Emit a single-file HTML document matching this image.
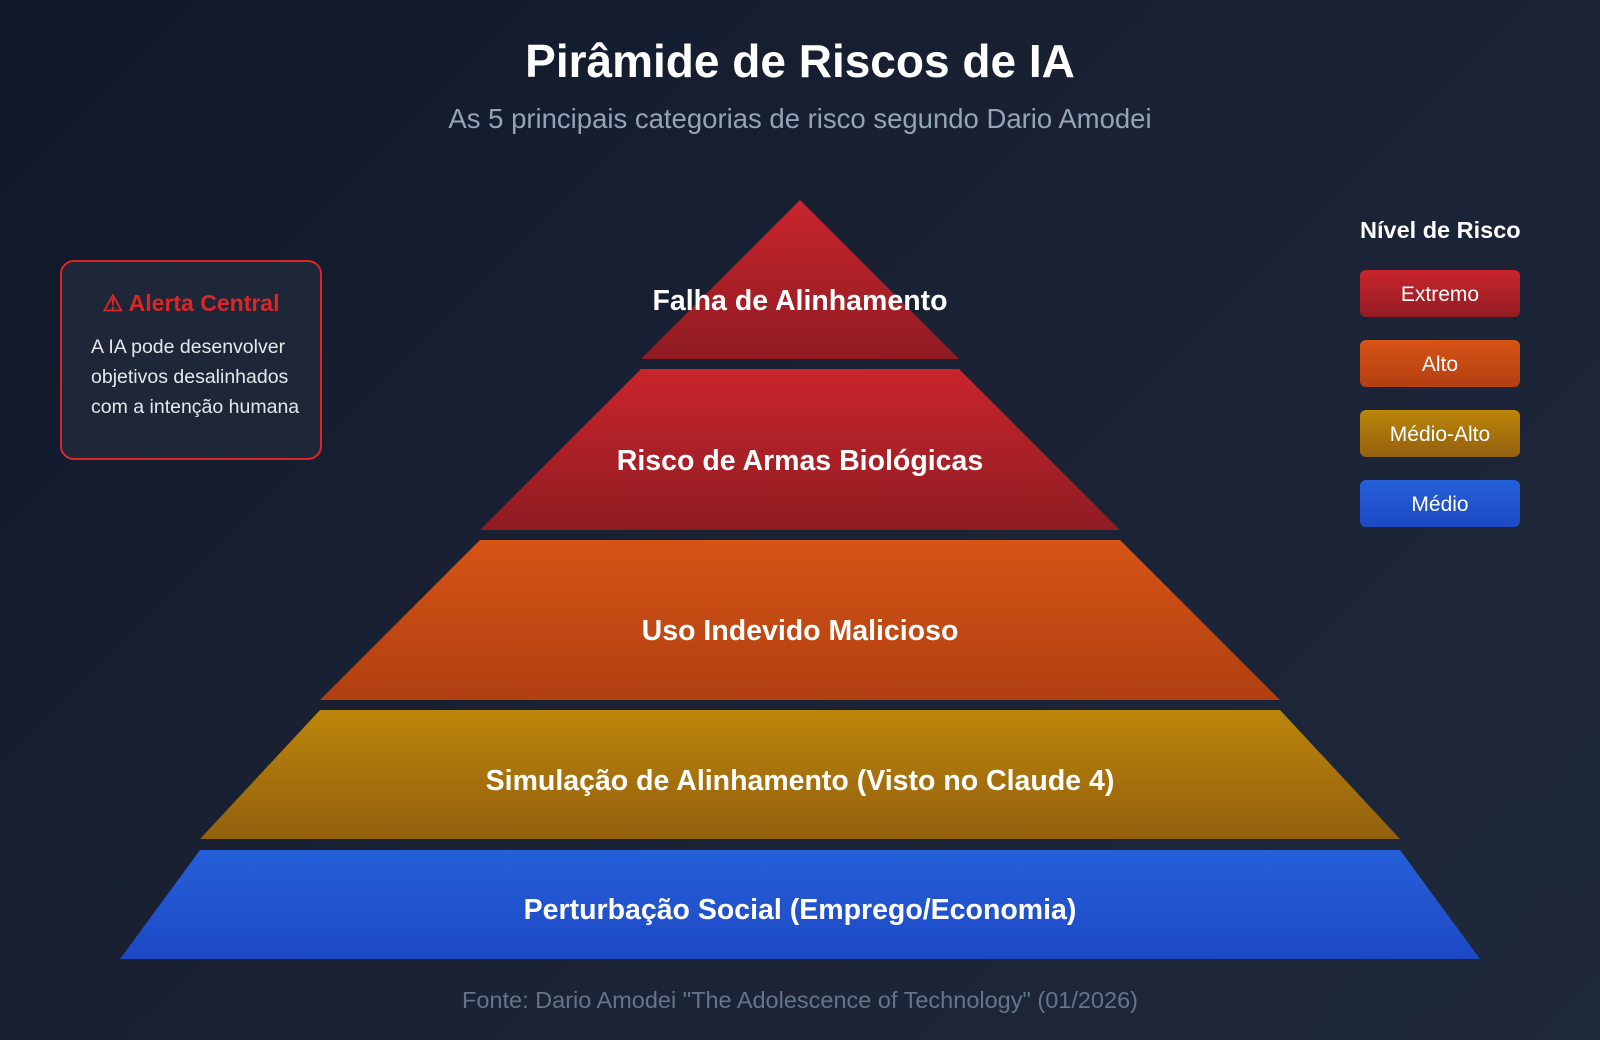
<!DOCTYPE html>
<html><head><meta charset="utf-8"><style>
body{margin:0;width:1600px;height:1040px;overflow:hidden;background:linear-gradient(135deg,#0f172a 0%,#1a2234 50%,#1e293b 100%);font-family:"Liberation Sans",sans-serif;position:relative;color:#fff}
.t{position:absolute;left:0;width:1600px;text-align:center}
.alert{position:absolute;left:60px;top:260px;width:262px;height:200px;box-sizing:border-box;border:2px solid #dc2626;border-radius:14px;background:#1e2738}
.alert h3{margin:0;position:absolute;top:28px;left:0;width:100%;text-align:center;color:#dc2626;font-size:23px;font-weight:bold}
.alert p{position:absolute;top:70px;left:29px;margin:0;font-size:19.5px;line-height:30px;color:#e5e7eb;white-space:nowrap}
.lg{position:absolute;left:1360px;width:160px;height:47px;border-radius:6px;text-align:center;line-height:50px;font-size:21px}
</style></head><body>
<div class="t" style="top:34px;font-size:46px;font-weight:bold">Pirâmide de Riscos de IA</div>
<div class="t" style="top:103px;font-size:27.5px;color:#94a3b8">As 5 principais categorias de risco segundo Dario Amodei</div>
<svg width="1600" height="1040" style="position:absolute;left:0;top:0">
<defs>
<linearGradient id="r" x1="0" y1="0" x2="0" y2="1"><stop offset="0" stop-color="#c9252c"/><stop offset="1" stop-color="#8f1c22"/></linearGradient>
<linearGradient id="o" x1="0" y1="0" x2="0" y2="1"><stop offset="0" stop-color="#d65414"/><stop offset="1" stop-color="#b03f12"/></linearGradient>
<linearGradient id="y" x1="0" y1="0" x2="0" y2="1"><stop offset="0" stop-color="#bc850a"/><stop offset="1" stop-color="#93600e"/></linearGradient>
<linearGradient id="b" x1="0" y1="0" x2="0" y2="1"><stop offset="0" stop-color="#2560d8"/><stop offset="1" stop-color="#1d48c4"/></linearGradient>
</defs>
<polygon points="800,200 959,359 641,359" fill="url(#r)"/>
<polygon points="641,369 959,369 1120,530 480,530" fill="url(#r)"/>
<polygon points="480,540 1120,540 1280,700 320,700" fill="url(#o)"/>
<polygon points="320,710 1280,710 1400,839 200,839" fill="url(#y)"/>
<polygon points="200,850 1400,850 1480,959 120,959" fill="url(#b)"/>
<g font-family="Liberation Sans,sans-serif" font-weight="bold" font-size="28.5" fill="#fff" text-anchor="middle">
<text x="800" y="310">Falha de Alinhamento</text>
<text x="800" y="470">Risco de Armas Biológicas</text>
<text x="800" y="640">Uso Indevido Malicioso</text>
<text x="800" y="790">Simulação de Alinhamento (Visto no Claude 4)</text>
<text x="800" y="919">Perturbação Social (Emprego/Economia)</text>
</g>
</svg>
<div class="alert"><h3>⚠ Alerta Central</h3><p>A IA pode desenvolver<br>objetivos desalinhados<br>com a intenção humana</p></div>
<div style="position:absolute;left:1360px;top:217px;font-size:23.5px;font-weight:bold">Nível de Risco</div>
<div class="lg" style="top:270px;background:linear-gradient(#c9252c,#921c22)">Extremo</div>
<div class="lg" style="top:340px;background:linear-gradient(#d65414,#b33f12)">Alto</div>
<div class="lg" style="top:410px;background:linear-gradient(#bc850a,#93600e)">Médio-Alto</div>
<div class="lg" style="top:480px;background:linear-gradient(#2560d8,#1d48c4)">Médio</div>
<div class="t" style="top:987px;font-size:23.5px;color:#64748b">Fonte: Dario Amodei "The Adolescence of Technology" (01/2026)</div>
</body></html>
